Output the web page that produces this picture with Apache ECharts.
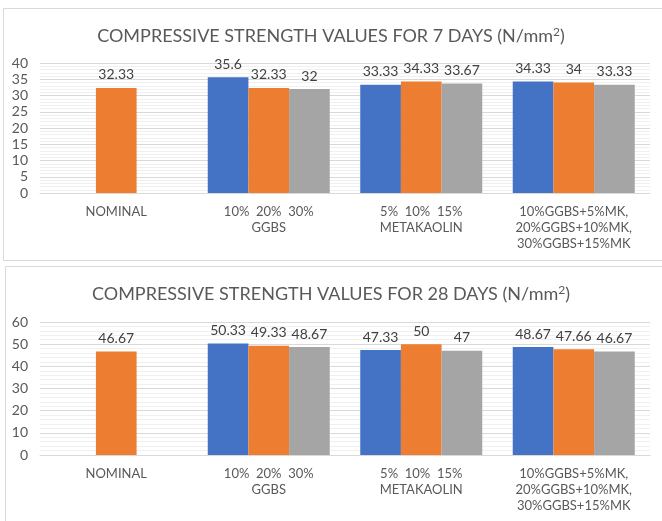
<!DOCTYPE html>
<html>
<head>
<meta charset="utf-8">
<script src="https://cdn.jsdelivr.net/npm/echarts@6/dist/echarts.min.js"></script>
<style>
  html, body { margin: 0; padding: 0; background: #fff; }
  #main { width: 662px; height: 521px; }
</style>
</head>
<body>
<div id="main"></div>
<script>
// categories on the x axis (same for both charts)
var categories = [
    'NOMINAL',
    '10%  20%  30%\nGGBS',
    '5%  10%  15%\nMETAKAOLIN',
    '10%GGBS+5%MK,\n20%GGBS+10%MK,\n30%GGBS+15%MK'
];

// 7 days values
var blue7   = [null, 35.6, 33.33, 34.33];
var orange7 = [32.33, 32.33, 34.33, 34];
var gray7   = [null, 32, 33.67, 33.33];

// 28 days values
var blue28   = [null, 50.33, 47.33, 48.67];
var orange28 = [46.67, 49.33, 50, 47.66];
var gray28   = [null, 48.67, 47, 46.67];

var FONT = 'Lato';
var colors = ['#4472C4', '#ED7D31', '#A5A5A5'];

function makeTitle(txt, top){
    return {
        text: txt + ' (N/mm{sup|2})',
        left: 'center',
        top: top,
        textStyle: {
            fontFamily: FONT, fontSize: 18, fontWeight: 'normal', color: '#595959',
            rich: {
                sup: { fontFamily: FONT, fontSize: 12, color: '#595959', verticalAlign: 'top', padding: [0, 0, 8, 0] }
            }
        }
    };
}

function makeX(idx){
    return {
        type: 'category', gridIndex: idx, data: categories,
        axisTick: { show: false },
        axisLine: { lineStyle: { color: '#d9d9d9' } },
        axisLabel: { fontFamily: FONT, fontSize: 13, color: '#595959', lineHeight: 16, margin: 11, interval: 0 }
    };
}

function makeY(idx, max, step){
    return {
        type: 'value', gridIndex: idx, min: 0, max: max, interval: step,
        axisLine: { show: false }, axisTick: { show: false },
        axisLabel: { fontFamily: FONT, fontSize: 14, color: '#595959', margin: 12 },
        splitLine: { lineStyle: { color: '#d9d9d9' } },
        minorSplitLine: { show: true, lineStyle: { color: '#f0f0f0' } },
        minorTick: { show: false, splitNumber: 5 }
    };
}

function makeBar(data, c, idx){
    return {
        type: 'bar', data: data, xAxisIndex: idx, yAxisIndex: idx,
        barGap: 0, barCategoryGap: '20%',
        itemStyle: { color: c },
        label: { show: true, position: 'top', distance: 6, fontFamily: FONT, fontSize: 14, color: '#404040' }
    };
}

var chart = echarts.init(document.getElementById('main'));
chart.setOption({
    animation: false,
    title: [
        makeTitle('COMPRESSIVE STRENGTH VALUES FOR 7 DAYS', 21),
        makeTitle('COMPRESSIVE STRENGTH VALUES FOR 28 DAYS', 279)
    ],
    // the two chart frames
    graphic: [
        { type: 'rect', shape: { x: 3.5, y: 8.5, width: 700, height: 252 }, style: { fill: 'none', stroke: '#d9d9d9', lineWidth: 1 } },
        { type: 'rect', shape: { x: 5.5, y: 266.5, width: 700, height: 300 }, style: { fill: 'none', stroke: '#d9d9d9', lineWidth: 1 } }
    ],
    grid: [
        { left: 40, width: 610, top: 63, height: 130 },
        { left: 40, width: 610, top: 322, height: 133 }
    ],
    xAxis: [makeX(0), makeX(1)],
    yAxis: [makeY(0, 40, 5), makeY(1, 60, 10)],
    series: [
        makeBar(blue7, colors[0], 0),
        makeBar(orange7, colors[1], 0),
        makeBar(gray7, colors[2], 0),
        makeBar(blue28, colors[0], 1),
        makeBar(orange28, colors[1], 1),
        makeBar(gray28, colors[2], 1)
    ]
});
</script>
</body>
</html>
